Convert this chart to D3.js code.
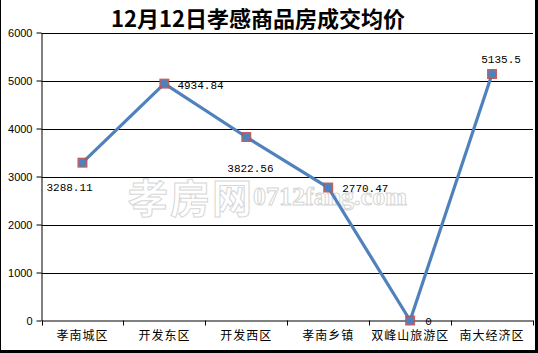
<!DOCTYPE html>
<html><head><meta charset="utf-8">
<script src="https://cdn.jsdelivr.net/npm/d3@7"></script>
<style>body{margin:0;background:#fff}svg{display:block}</style>
</head><body>
<script>
const title = "12月12日孝感商品房成交均价";
const categories = ["孝南城区","开发东区","开发西区","孝南乡镇","双峰山旅游区","南大经济区"];
const values = [3288.11, 4934.84, 3822.56, 2770.47, 0, 5135.5];
const labels = ["3288.11","4934.84","3822.56","2770.47","0","5135.5"];
const yTicks = [0,1000,2000,3000,4000,5000,6000];

(function(){
const W = 538, H = 353;
const svg = d3.select("body").append("svg").attr("width", W).attr("height", H);
svg.append("rect").attr("width", W).attr("height", H).attr("fill", "#fff");

const pL = 41.5, pR = 533, pT = 32.5, pB = 320.5;
const x = d3.scaleBand().domain(categories).range([pL, pR]);
const y = d3.scaleLinear().domain([0, 6000]).range([pB, pT]);

// watermark
const wm = svg.append("g").attr("fill", "#fff").attr("stroke", "#d6d6d6").attr("stroke-width", 1);
wm.append("text").attr("x", 128).attr("y", 213).attr("font-family", "Noto Sans CJK SC").attr("font-weight", "bold")
  .attr("font-size", 40).attr("letter-spacing", 2).text("孝房网");
wm.append("text").attr("x", 253).attr("y", 205).attr("font-family", "Liberation Serif").attr("font-weight", "bold")
  .attr("font-size", 26).text("0712fang.com");

// gridlines
svg.append("g").selectAll("line").data(yTicks.filter(d => d > 0)).join("line")
  .attr("x1", pL).attr("x2", pR).attr("y1", d => Math.round(y(d)) + 0.5).attr("y2", d => Math.round(y(d)) + 0.5)
  .attr("stroke", "#000").attr("stroke-width", 1);

// y axis
const ya = svg.append("g").attr("transform", `translate(${pL},0)`)
  .call(d3.axisLeft(y).tickValues(yTicks).tickSize(5).tickSizeOuter(0).tickFormat(d3.format("d")));
ya.select(".domain").attr("stroke", "#000");
ya.selectAll(".tick line").attr("stroke", "#000");
ya.selectAll("text").attr("font-family", "Liberation Sans, Arial").attr("font-size", 11).attr("fill", "#000").attr("dx", "-1");

// x axis
const xa = svg.append("g").attr("transform", `translate(0,${pB})`)
  .call(d3.axisBottom(x).tickSize(0).tickSizeOuter(0));
xa.select(".domain").attr("stroke", "#000");
xa.selectAll("text").attr("font-family", "Noto Sans CJK SC").attr("font-size", 12).attr("fill", "#000")
  .attr("letter-spacing", 1).attr("dy", "1.35em");
const bounds = categories.map(c => x(c)).concat([pR]);
svg.append("g").selectAll("line").data(bounds).join("line")
  .attr("x1", d => Math.round(d) + 0.5).attr("x2", d => Math.round(d) + 0.5)
  .attr("y1", pB).attr("y2", pB + 5).attr("stroke", "#000");

// line
const cx = c => x(c) + x.bandwidth() / 2;
const pts = categories.map((c, i) => [cx(c), y(values[i])]);
svg.append("path").attr("d", d3.line()(pts)).attr("fill", "none")
  .attr("stroke", "#4F81BD").attr("stroke-width", 3.2).attr("stroke-linejoin", "round");

// markers
svg.append("g").selectAll("rect").data(pts).join("rect")
  .attr("x", d => d[0] - 5).attr("y", d => d[1] - 5).attr("width", 10).attr("height", 10)
  .attr("fill", "#C0504D").attr("opacity", 0.9);
svg.append("g").selectAll("circle").data(pts).join("circle")
  .attr("cx", d => d[0]).attr("cy", d => d[1]).attr("r", 4).attr("fill", "#4F81BD");

// data labels
const offs = [[-36, 28, "start"], [13, 5, "start"], [-19, 35, "start"], [14, 4, "start"], [15, 4, "start"], [9, -11, "middle"]];
svg.append("g").selectAll("text").data(pts).join("text")
  .attr("x", (d, i) => d[0] + offs[i][0]).attr("y", (d, i) => d[1] + offs[i][1])
  .attr("text-anchor", (d, i) => offs[i][2])
  .attr("font-family", "Liberation Mono, DejaVu Sans Mono").attr("font-size", 11).attr("fill", "#000")
  .text((d, i) => labels[i]);

// title
svg.append("text").attr("x", 258).attr("y", 27).attr("text-anchor", "middle")
  .attr("font-family", "Noto Sans CJK SC").attr("font-weight", "bold").attr("font-size", 22).attr("fill", "#000")
  .text(title);

// frame
svg.append("line").attr("x1", 0.5).attr("x2", 0.5).attr("y1", 0).attr("y2", H).attr("stroke", "#000");
svg.append("rect").attr("x", 535).attr("y", 0).attr("width", 3).attr("height", H).attr("fill", "#000");
svg.append("rect").attr("x", 0).attr("y", 350).attr("width", W).attr("height", 3).attr("fill", "#000");
})();
</script>
</body></html>
